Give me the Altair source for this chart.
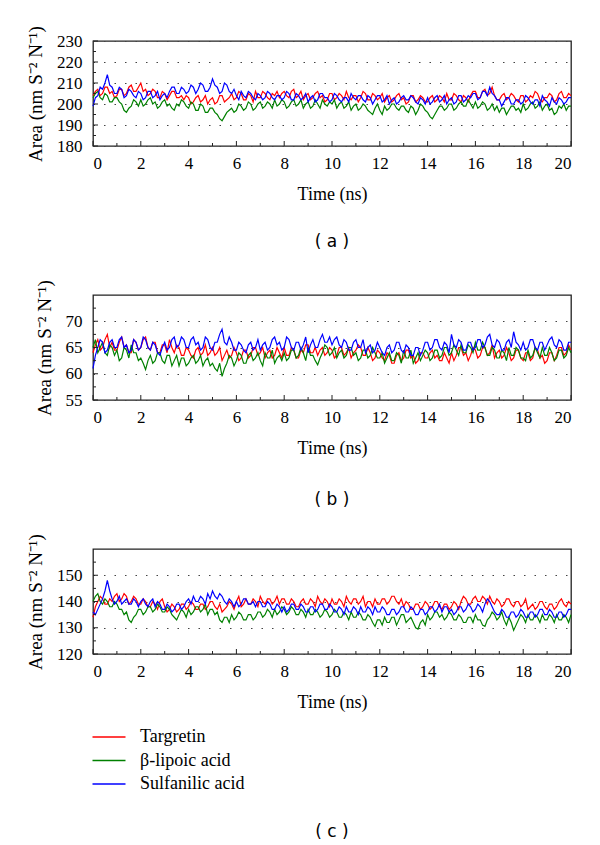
import altair as alt
import pandas as pd

# ---------------- data (0.1 ns sampling) ----------------
TIME_NS = [round(0.1 * i, 1) for i in range(201)]

SERIES_NAMES = ["Targretin", "β-lipoic acid", "Sulfanilic acid"]
SERIES_COLORS = ["#ff0000", "#008000", "#0000ff"]

X_LABELS = [0, 2, 4, 6, 8, 10, 12, 14, 16, 18, 20]
X_MINOR = [1, 3, 5, 7, 9, 11, 13, 15, 17, 19]

A_Y_LABELS = [180, 190, 200, 210, 220, 230]
A_Y_MINOR = [185, 195, 205, 215, 225]
B_Y_LABELS = [55, 60, 65, 70]
B_Y_MINOR = [57.5, 62.5, 67.5, 72.5]
C_Y_LABELS = [120, 130, 140, 150]
C_Y_MINOR = [125, 135, 145, 155]

# panel (a)
A_TARGRETIN = [
    204, 206, 207, 204, 205, 208, 208, 205, 206, 203,
    204, 207, 207, 204, 205, 208, 209, 206, 206, 208,
    210, 206, 207, 204, 205, 207, 206, 203, 203, 206,
    205, 202, 204, 206, 206, 203, 203, 204, 202, 204,
    203, 200, 201, 203, 204, 201, 202, 204, 200, 202,
    203, 200, 201, 204, 204, 201, 202, 203, 205, 202,
    203, 206, 205, 202, 202, 205, 204, 201, 206, 203,
    203, 206, 205, 203, 202, 205, 204, 206, 203, 205,
    206, 204, 203, 206, 207, 203, 204, 206, 202, 204,
    205, 202, 203, 205, 206, 203, 204, 201, 202, 205,
    205, 202, 203, 205, 204, 202, 206, 203, 202, 204,
    204, 201, 203, 206, 205, 202, 202, 205, 204, 202,
    203, 205, 201, 203, 204, 201, 202, 204, 205, 202,
    203, 200, 201, 204, 204, 201, 202, 204, 203, 201,
    201, 203, 204, 201, 202, 204, 203, 201, 205, 202,
    202, 205, 204, 202, 201, 204, 203, 201, 204, 206,
    206, 203, 203, 206, 207, 204, 205, 208, 204, 202,
    202, 204, 205, 202, 203, 205, 204, 202, 201, 204,
    204, 201, 202, 204, 203, 206, 205, 202, 201, 203,
    203, 205, 204, 201, 202, 205, 206, 203, 203, 205,
    204]
A_LIPOIC = [
    203, 205, 206, 203, 202, 205, 204, 201, 201, 203,
    203, 201, 200, 197, 196, 198, 199, 202, 201, 199,
    202, 199, 200, 202, 203, 200, 201, 198, 199, 201,
    202, 199, 200, 198, 197, 200, 199, 202, 201, 199,
    198, 201, 200, 197, 197, 200, 199, 196, 196, 198,
    198, 196, 195, 193, 192, 194, 196, 197, 198, 196,
    197, 200, 199, 197, 198, 201, 200, 197, 198, 200,
    201, 198, 199, 201, 200, 198, 202, 199, 200, 202,
    201, 198, 199, 201, 202, 199, 200, 202, 198, 200,
    201, 198, 199, 202, 200, 198, 202, 200, 199, 201,
    200, 202, 198, 200, 201, 198, 199, 201, 197, 199,
    200, 197, 198, 200, 199, 197, 196, 195, 198, 200,
    197, 195, 199, 197, 198, 200, 200, 198, 197, 199,
    199, 197, 196, 199, 198, 195, 197, 200, 199, 197,
    196, 194, 193, 195, 197, 199, 199, 197, 198, 200,
    200, 197, 198, 200, 201, 199, 199, 202, 200, 198,
    201, 198, 199, 201, 200, 197, 198, 200, 197, 199,
    196, 198, 198, 195, 197, 199, 199, 197, 198, 196,
    200, 197, 198, 200, 201, 198, 199, 201, 197, 199,
    200, 197, 198, 195, 196, 199, 198, 200, 197, 199,
    199]
A_SULFANILIC = [
    199, 203, 204, 208, 207, 210, 214, 209, 208, 205,
    205, 208, 207, 203, 204, 207, 206, 204, 203, 206,
    205, 202, 203, 206, 206, 203, 204, 206, 202, 204,
    205, 203, 206, 208, 208, 205, 205, 208, 207, 205,
    206, 209, 208, 205, 207, 210, 209, 206, 206, 208,
    212, 209, 208, 205, 206, 210, 209, 206, 205, 207,
    204, 202, 206, 204, 203, 206, 205, 203, 202, 205,
    204, 202, 203, 206, 205, 203, 202, 204, 204, 202,
    203, 206, 205, 202, 202, 205, 204, 202, 203, 205,
    201, 203, 204, 201, 202, 205, 205, 203, 203, 201,
    202, 205, 204, 202, 201, 203, 203, 201, 205, 203,
    202, 204, 204, 202, 201, 204, 203, 200, 202, 204,
    204, 201, 202, 204, 200, 202, 203, 200, 201, 203,
    204, 202, 202, 204, 203, 201, 200, 203, 202, 200,
    203, 200, 201, 203, 204, 201, 202, 204, 200, 202,
    203, 200, 201, 204, 204, 201, 202, 204, 203, 205,
    205, 202, 203, 206, 206, 204, 208, 205, 204, 202,
    202, 199, 201, 203, 203, 200, 200, 202, 202, 200,
    201, 204, 203, 201, 200, 202, 202, 199, 204, 202,
    201, 199, 203, 201, 200, 203, 202, 200, 201, 203,
    203]

# panel (b)
B_TARGRETIN = [
    64, 65.5, 66.5, 64.5, 65, 66.5, 67.5, 65, 66, 64.5,
    64.5, 66, 67, 65, 65.5, 64, 64, 66.5, 66, 64.5,
    65, 66.5, 67, 65, 64.5, 66, 66, 64, 64, 65.5,
    65.5, 64, 66.5, 65, 64, 65.5, 65, 63.5, 63.5, 65,
    64.5, 63.5, 63, 64.5, 65, 63.5, 64, 65.5, 63.5, 64,
    65, 63.5, 64, 65, 62.5, 63.5, 64.5, 63, 63.5, 65,
    64, 62.5, 63, 64.5, 64.5, 63, 63.5, 65, 65, 63.5,
    64, 65, 63, 64, 64.5, 63, 63.5, 65, 64, 63,
    65, 63.5, 63.5, 65, 64.5, 63, 63, 64.5, 64, 65.5,
    65.5, 64, 64, 65, 63.5, 64.5, 65, 63.5, 64, 65,
    64.5, 63, 63.5, 65, 65, 63.5, 64, 65, 63, 64,
    64.5, 65.5, 65, 63.5, 63.5, 65, 64, 62.5, 63, 64.5,
    64, 63, 62.5, 64, 63.5, 62, 62, 63.5, 64, 62.5,
    63, 64.5, 64.5, 63, 63.5, 62, 62.5, 64, 64, 63,
    63, 64, 64.5, 63, 63.5, 62.5, 62.5, 64, 63, 62,
    64, 62.5, 63.5, 65, 65, 63.5, 64, 62.5, 63.5, 65,
    64.5, 63, 63.5, 65, 65, 63.5, 64, 65.5, 63, 64,
    64.5, 63, 63.5, 65, 64, 62.5, 63, 64.5, 64.5, 63,
    62.5, 64, 64, 62.5, 63, 65, 64.5, 63, 63.5, 62,
    62.5, 64, 64, 62.5, 63.5, 65, 65, 63.5, 64, 65.5,
    64.5]
B_LIPOIC = [
    65, 66.5, 64, 65, 66, 64, 63.5, 65.5, 65, 63.5,
    64.5, 62.5, 63, 65, 64.5, 63, 65.5, 64, 64, 62.5,
    63, 62, 60.8, 62.5, 63.5, 62, 62.5, 64, 64, 62.5,
    62, 63.5, 63.5, 61.5, 62.5, 63.5, 61.5, 63, 63, 61.5,
    62, 63, 63.5, 62, 62.5, 63.5, 61.5, 62.5, 63, 61.5,
    62, 61, 60.5, 62, 59.5, 61, 62, 63.5, 63, 61.5,
    62.5, 64, 63.5, 62, 62, 63.5, 64, 62.5, 63, 64,
    62.5, 61.5, 64, 63, 63, 64.5, 62, 63, 63.5, 62.5,
    64, 62.5, 63, 64.5, 64.5, 63, 63.5, 65, 64, 62.5,
    65, 63.5, 63.5, 62.5, 61.7, 63, 64, 65.5, 65, 63.5,
    64, 65, 63, 64, 64.5, 63, 63.5, 65, 65, 63.5,
    64, 62.5, 63, 64.5, 64.5, 63, 63.5, 65, 64, 63,
    63, 64, 62, 63, 64, 62.5, 62.5, 64, 63.5, 62,
    64.5, 63, 63, 64.5, 62, 63, 64, 62.5, 63.5, 64.5,
    64, 62.5, 63, 64.5, 64.5, 63, 63.5, 65, 65, 63.5,
    64, 65.5, 64.5, 63.5, 65.5, 64, 64, 65.5, 65, 64,
    66, 64.5, 64.5, 66, 65, 63.5, 63.5, 65, 64.5, 63,
    63, 64.5, 64, 62.5, 65, 63.5, 63.5, 65, 64.5, 63,
    63, 62.5, 64.5, 63, 63.5, 65, 64, 63, 65, 63.5,
    63.5, 65, 64, 62.5, 63, 64.5, 64.5, 63, 63.5, 65,
    64]
B_SULFANILIC = [
    61, 63.5, 65, 66.5, 66, 64, 64.5, 66, 66.5, 65,
    65, 66.5, 67, 65, 65.5, 64, 64.5, 66.5, 66, 64.5,
    65, 67, 66.5, 65, 64.5, 66, 65.5, 64, 63.5, 65,
    66, 64.5, 65, 66.5, 67, 65, 65.5, 67, 66.5, 65,
    65, 66.5, 67, 65.5, 66, 64.5, 65, 67, 66.5, 65,
    64.5, 66, 66, 67.5, 68.5, 66, 65.5, 67, 66, 64.5,
    64.5, 66, 65.5, 64.5, 64, 65.5, 66, 64.5, 65, 66.5,
    64.5, 65.5, 66, 64.5, 65, 66.5, 67, 65.5, 66, 64.5,
    65, 67, 66.5, 65, 64.5, 66, 66, 64.5, 65.5, 67,
    64, 65.5, 66.5, 65, 65, 66.5, 67.5, 66, 66, 67,
    65.5, 66.5, 67, 65.5, 65, 66.5, 66, 64.5, 64.5, 66,
    66.5, 65, 65, 66.5, 64, 65, 65.5, 64, 64.5, 66,
    65, 64, 63.5, 65, 65.5, 64, 64.5, 66, 66, 64.5,
    64, 65.5, 65, 63.5, 63.5, 65, 65, 63.5, 64.5, 66,
    66, 64.5, 65, 66.5, 66.5, 65, 64.5, 66, 65.5, 64,
    67.5, 65.5, 65, 66.5, 66, 64.5, 64.5, 66, 66, 64.5,
    65, 66.5, 66.5, 65, 65.5, 67, 67.5, 65.5, 65, 66.5,
    66, 64.5, 64.5, 66, 66.5, 65, 68, 66, 65.5, 64.5,
    66, 64.5, 65, 66.5, 66.5, 65, 64.5, 66, 66, 64.5,
    65.5, 66.5, 67, 65.5, 65, 66.5, 66, 64.5, 64.5, 66,
    66]

# panel (c)
C_TARGRETIN = [
    134, 138, 140, 142, 141, 139, 139, 141, 140, 142,
    143, 140, 141, 143, 142, 139, 140, 142, 141, 139,
    139, 141, 140, 138, 138, 140, 139, 137, 140, 141,
    138, 136, 137, 139, 138, 136, 137, 139, 139, 137,
    138, 140, 139, 137, 137, 139, 139, 137, 138, 140,
    140, 138, 137, 139, 136, 137, 138, 140, 139, 137,
    140, 142, 138, 139, 141, 139, 139, 141, 140, 138,
    142, 140, 139, 141, 141, 139, 140, 142, 139, 141,
    141, 139, 139, 141, 140, 138, 138, 140, 141, 139,
    139, 141, 140, 138, 142, 140, 139, 141, 140, 138,
    141, 139, 139, 141, 140, 138, 142, 140, 139, 141,
    141, 139, 140, 142, 138, 140, 140, 138, 141, 139,
    139, 141, 141, 139, 140, 142, 142, 140, 139, 141,
    138, 140, 139, 137, 137, 139, 139, 137, 138, 140,
    139, 137, 138, 140, 140, 138, 137, 139, 139, 137,
    138, 140, 139, 137, 140, 142, 141, 139, 139, 141,
    142, 140, 140, 142, 141, 139, 142, 140, 139, 141,
    140, 138, 139, 141, 141, 139, 138, 140, 140, 138,
    139, 141, 137, 138, 139, 137, 138, 140, 140, 138,
    137, 139, 139, 137, 138, 140, 141, 139, 138, 140,
    139]
C_LIPOIC = [
    140, 142, 143, 140, 139, 141, 140, 138, 138, 140,
    139, 137, 137, 135, 136, 133, 132, 134, 135, 137,
    137, 135, 136, 138, 138, 136, 137, 139, 138, 136,
    136, 138, 137, 135, 134, 133, 135, 137, 136, 134,
    137, 135, 136, 138, 138, 136, 137, 139, 135, 137,
    137, 135, 136, 133, 132, 134, 134, 132, 135, 133,
    134, 136, 135, 133, 133, 135, 135, 133, 134, 136,
    136, 134, 135, 137, 136, 134, 137, 135, 136, 138,
    137, 135, 136, 138, 137, 135, 135, 137, 136, 134,
    137, 135, 135, 137, 136, 134, 135, 137, 136, 134,
    135, 137, 136, 134, 134, 136, 135, 133, 136, 134,
    134, 136, 135, 133, 133, 135, 134, 132, 130.5, 133,
    133, 131, 134, 132, 132, 134, 134, 131, 133, 135,
    135, 132, 133, 134, 132, 130, 129.5, 132, 133, 131,
    135, 133, 134, 136, 136, 134, 135, 133, 134, 136,
    135, 133, 133, 135, 134, 132, 132, 134, 134, 132,
    135, 133, 133, 131, 130.5, 133, 134, 136, 135, 133,
    134, 136, 133, 131, 134, 132, 129, 131, 133, 135,
    134, 132, 135, 133, 133, 135, 134, 132, 135, 133,
    133, 135, 134, 132, 135, 133, 133, 135, 134, 132,
    135]
C_SULFANILIC = [
    136, 135, 137, 139, 141, 144, 148, 144, 141, 139,
    140, 142, 139, 140, 141, 139, 139, 141, 140, 138,
    140, 141, 139, 138, 140, 141, 138, 140, 139, 137,
    137, 139, 138, 136, 137, 139, 139, 137, 138, 140,
    141, 139, 142, 140, 140, 142, 141, 139, 143, 141,
    144, 142, 141, 143, 142, 140, 139, 141, 140, 138,
    140, 138, 139, 141, 141, 139, 139, 140, 138, 140,
    140, 138, 138, 140, 139, 137, 137, 139, 138, 136,
    138, 136, 137, 139, 139, 137, 137, 139, 138, 136,
    136, 138, 138, 136, 137, 139, 139, 137, 137, 139,
    138, 136, 136, 138, 137, 135, 138, 136, 136, 138,
    137, 135, 138, 136, 136, 138, 137, 135, 138, 136,
    136, 138, 137, 135, 135, 137, 137, 135, 136, 138,
    138, 136, 136, 138, 137, 135, 135, 137, 137, 135,
    136, 138, 138, 136, 137, 139, 136, 138, 138, 136,
    137, 135, 136, 138, 138, 136, 137, 139, 138, 136,
    137, 139, 138, 136, 139, 141, 140, 138, 136, 135,
    135, 137, 136, 134, 134, 136, 136, 134, 135, 137,
    136, 134, 134, 136, 136, 134, 135, 137, 137, 135,
    135, 137, 136, 134, 134, 136, 136, 134, 135, 137,
    137]

# ---------------- styling ----------------
W, H = 478, 105
SERIF = "Liberation Serif"
Y_TITLE = "Area (nm S\u207b\u00b2 N\u207b\u00b9)"


def panel(series, domain, y_labels, y_minor, caption, caption_offset):
    rows = []
    for name, vals in zip(SERIES_NAMES, series):
        for t, v in zip(TIME_NS, vals):
            rows.append({"t": t, "v": v, "s": name})
    df = pd.DataFrame(rows)

    xs = alt.Scale(domain=[0, 20], nice=False)
    ys = alt.Scale(domain=domain, nice=False, zero=False)
    x_axis = alt.Axis(values=X_LABELS, title="Time (ns)", grid=False, domain=False,
                      ticks=False, labelPadding=9, titlePadding=14, format="d")
    y_axis = alt.Axis(values=y_labels, title=Y_TITLE, grid=True, gridDash=[1.5, 9],
                      gridColor="#444", gridWidth=1.2, domain=False, ticks=False,
                      labelPadding=11, titlePadding=11, titleFontSize=19, format="d")
    color = alt.Color("s:N", scale=alt.Scale(domain=SERIES_NAMES, range=SERIES_COLORS),
                      legend=alt.Legend(title=None))

    layers = []
    for name in SERIES_NAMES:
        layers.append(
            alt.Chart(df).transform_filter(alt.datum.s == name)
            .mark_line(strokeWidth=1.2)
            .encode(x=alt.X("t:Q", scale=xs, axis=x_axis),
                    y=alt.Y("v:Q", scale=ys, axis=y_axis),
                    color=color)
        )
    x_major = alt.Chart(pd.DataFrame({"t": X_LABELS})).mark_rule(color="#222").encode(
        x=alt.X("t:Q", scale=xs, axis=x_axis), y=alt.value(H), y2=alt.value(H - 5))
    x_minor = alt.Chart(pd.DataFrame({"t": X_MINOR})).mark_rule(color="#222").encode(
        x=alt.X("t:Q", scale=xs, axis=x_axis), y=alt.value(H), y2=alt.value(H - 3))
    y_major = alt.Chart(pd.DataFrame({"v": y_labels})).mark_rule(color="#222").encode(
        y=alt.Y("v:Q", scale=ys, axis=y_axis), x=alt.value(0), x2=alt.value(5))
    y_min = alt.Chart(pd.DataFrame({"v": y_minor})).mark_rule(color="#222").encode(
        y=alt.Y("v:Q", scale=ys, axis=y_axis), x=alt.value(0), x2=alt.value(3))

    return alt.layer(*layers, x_major, x_minor, y_major, y_min).properties(
        width=W, height=H,
        title=alt.TitleParams(caption, orient="bottom", font="DejaVu Sans", fontSize=17,
                              fontWeight="normal", offset=caption_offset, anchor="middle",
                              frame="group", color="#000"),
    )


pa = panel([A_TARGRETIN, A_LIPOIC, A_SULFANILIC], [180, 230], A_Y_LABELS, A_Y_MINOR, "( a )", 31)
pb = panel([B_TARGRETIN, B_LIPOIC, B_SULFANILIC], [55, 75], B_Y_LABELS, B_Y_MINOR, "( b )", 35)
pc = panel([C_TARGRETIN, C_LIPOIC, C_SULFANILIC], [120, 160], C_Y_LABELS, C_Y_MINOR, "( c )", 113)

chart = (
    alt.vconcat(pa, pb, pc, spacing=149, bounds="flush")
    .resolve_scale(color="shared")
    .properties(padding={"left": 17, "top": 16, "right": 5, "bottom": 5})
    .configure_view(stroke="#222", strokeWidth=1.3)
    .configure_axis(labelFont=SERIF, labelFontSize=17, titleFont=SERIF, titleFontSize=18,
                    titleFontWeight="normal", labelColor="#000", titleColor="#000")
    .configure_legend(orient="none", legendX=7, legendY=687, symbolType="M-3,0H3",
                      symbolSize=121, symbolStrokeWidth=1.5, labelFont=SERIF,
                      labelFontSize=18, labelColor="#000", labelOffset=22, rowPadding=5.5,
                      padding=0)
)

chart.save("out.html", embed_options={"renderer": "svg", "actions": False})
